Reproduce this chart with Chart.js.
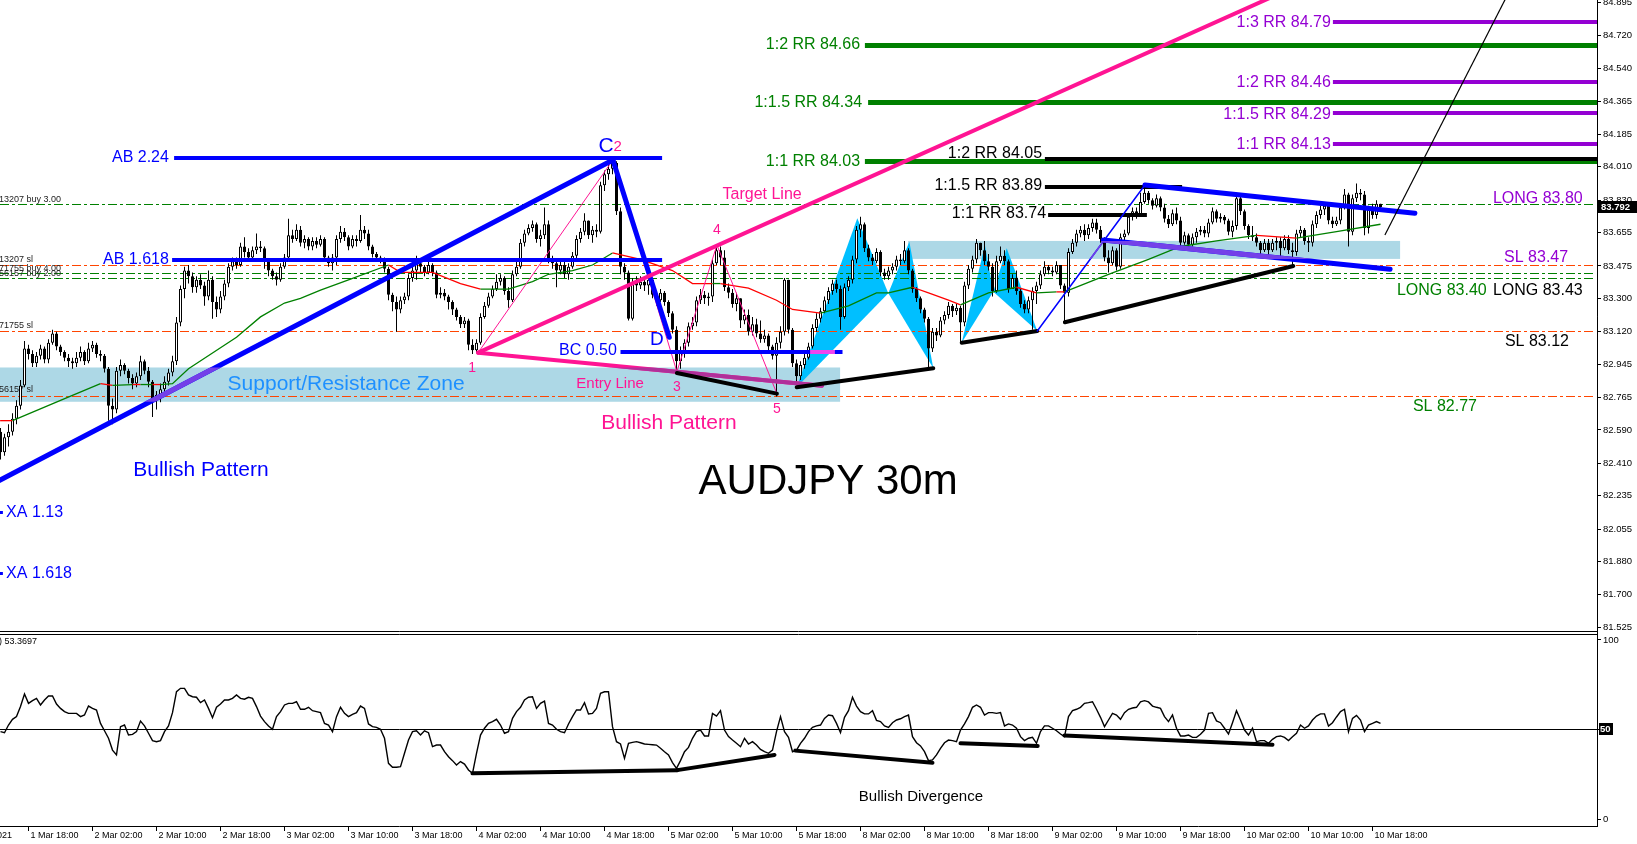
<!DOCTYPE html>
<html><head><meta charset="utf-8">
<script src="https://cdn.jsdelivr.net/npm/chart.js@4.4.1/dist/chart.umd.min.js"></script>
<style>
html,body{margin:0;padding:0;background:#fff;overflow:hidden;}
#wrap{position:relative;width:1637px;height:844px;background:#fff;}
canvas{position:absolute;left:0;}
#c1{top:0;} #c2{top:633px;}
</style></head><body>
<div id="wrap"><canvas id="c1" width="1637" height="633"></canvas><canvas id="c2" width="1637" height="211"></canvas></div>
<script>
// ---------------- DATA ----------------
const firstIdx = -7;          // candle index of first bar (index 0 = 1 Mar 18:00, 30m bars)
const firstOpen = 82.58;
const closes = [
82.47,82.55,82.58,82.65,82.72,82.83,83.03,83.00,82.95,82.99,
83.03,82.97,83.06,83.11,83.04,83.01,82.98,82.96,82.95,82.98,
83.01,82.96,83.03,83.05,83.00,82.99,82.92,82.72,82.70,82.91,
82.94,82.91,82.87,82.84,82.88,82.96,82.91,82.85,82.76,82.78,
82.81,82.85,82.90,82.96,83.17,83.35,83.45,83.42,83.36,83.40,
83.37,83.31,83.40,83.28,83.24,83.31,83.38,83.47,83.50,83.48,
83.58,83.55,83.52,83.56,83.58,83.57,83.50,83.45,83.42,83.40,
83.47,83.52,83.64,83.62,83.67,
83.60,83.62,83.58,83.61,83.59,83.62,83.52,83.49,83.52,83.62,
83.66,83.63,83.58,83.62,83.61,83.67,83.65,83.58,83.54,83.52,
83.51,83.46,83.32,83.28,83.24,83.29,83.31,83.41,83.45,83.49,
83.47,83.44,83.48,83.44,83.32,83.33,83.31,83.28,83.24,83.20,
83.16,83.18,83.05,83.02,83.06,83.20,83.26,83.31,83.35,83.39,
83.41,83.34,83.29,83.43,83.47,83.60,83.65,83.68,83.70,83.62,
83.64,83.70,83.51,83.49,83.45,83.48,83.43,83.47,83.53,83.62,
83.66,83.72,83.64,83.67,83.66,83.91,83.97,84.00,84.03,83.77,
83.47,83.44,83.19,83.39,83.37,83.39,83.37,83.40,83.32,83.29,
83.33,83.28,83.22,83.13,82.96,83.01,83.06,83.15,83.17,83.29,
83.32,83.30,83.31,83.49,83.56,83.52,83.36,83.33,83.27,83.30,
83.18,83.21,
83.12,83.16,83.11,83.08,83.10,83.04,82.99,83.06,83.12,83.40,
83.13,82.95,82.88,82.94,82.98,83.04,83.14,83.19,83.23,83.29,
83.34,83.38,83.35,83.20,83.36,83.40,83.51,83.67,83.70,83.57,
83.52,83.50,83.55,83.44,83.42,83.45,83.47,83.51,83.50,83.56,
83.45,83.35,83.30,83.24,83.19,83.03,83.12,83.10,83.18,83.21,
83.26,83.23,83.25,83.17,83.37,83.46,83.51,83.60,83.56,83.50,
83.47,83.34,83.50,83.53,83.50,83.35,83.41,83.34,83.27,83.24,
83.29,83.34,83.37,83.43,83.47,83.45,83.44,83.48,83.37,83.33,
83.55,83.60,83.65,83.67,83.64,83.68,83.71,83.67,83.62,83.52,
83.49,83.56,83.47,83.63,83.65,83.74,83.77,83.75,83.82,83.87,
83.83,83.80,83.84,83.79,83.73,83.70,83.76,83.72,83.60,83.64,
83.59,83.63,83.66,83.67,83.65,83.71,83.77,83.73,83.74,83.72,
83.66,83.69,83.84,83.77,83.69,
83.64,83.63,83.60,83.56,83.60,83.56,83.60,83.61,83.57,83.62,
83.56,83.55,83.65,83.67,83.61,83.60,83.70,83.75,83.78,83.80,
83.72,83.70,83.72,83.79,83.86,83.66,83.84,83.87,83.86,83.68,
83.78,83.75,83.81,83.792];
const highs = [
82.60,82.57,82.62,82.68,82.75,82.86,83.07,83.05,83.02,83.01,
83.05,83.04,83.08,83.13,83.12,83.05,83.02,83.00,82.98,83.01,
83.04,83.02,83.06,83.07,83.06,83.02,83.00,82.93,82.76,82.93,
82.97,82.95,82.92,82.89,82.90,82.99,82.97,82.93,82.86,82.80,
82.84,82.88,82.92,82.99,83.20,83.37,83.47,83.48,83.44,83.42,
83.43,83.39,83.45,83.42,83.31,83.34,83.40,83.49,83.52,83.52,
83.60,83.63,83.57,83.58,83.65,83.61,83.58,83.51,83.46,83.44,
83.49,83.54,83.73,83.67,83.70,
83.69,83.64,83.63,83.63,83.63,83.64,83.63,83.53,83.54,83.64,
83.69,83.68,83.64,83.64,83.64,83.75,83.69,83.67,83.59,83.55,
83.53,83.52,83.47,83.33,83.31,83.31,83.33,83.43,83.47,83.53,
83.51,83.48,83.53,83.49,83.45,83.36,83.35,83.32,83.29,83.25,
83.21,83.20,83.19,83.08,83.08,83.22,83.28,83.33,83.37,83.43,
83.43,83.42,83.36,83.45,83.50,83.62,83.67,83.70,83.72,83.71,
83.67,83.79,83.72,83.53,83.51,83.50,83.50,83.49,83.55,83.64,
83.68,83.76,83.72,83.69,83.70,83.93,83.99,84.02,84.06,84.04,
83.79,83.49,83.45,83.41,83.42,83.42,83.41,83.42,83.41,83.34,
83.35,83.34,83.29,83.23,83.15,83.04,83.08,83.17,83.20,83.31,
83.35,83.34,83.33,83.51,83.59,83.58,83.56,83.38,83.35,83.33,
83.30,83.24,
83.24,83.20,83.19,83.18,83.13,83.11,83.05,83.09,83.15,83.41,
83.40,83.14,82.97,82.96,83.00,83.06,83.16,83.22,83.25,83.31,
83.36,83.40,83.40,83.37,83.38,83.42,83.53,83.69,83.74,83.71,
83.59,83.54,83.57,83.56,83.46,83.47,83.49,83.53,83.54,83.61,
83.57,83.46,83.36,83.31,83.25,83.20,83.14,83.14,83.20,83.23,
83.28,83.27,83.27,83.26,83.39,83.48,83.53,83.62,83.60,83.61,
83.54,83.49,83.53,83.58,83.56,83.51,83.43,83.45,83.35,83.29,
83.31,83.36,83.39,83.45,83.50,83.48,83.47,83.50,83.47,83.38,
83.57,83.62,83.67,83.69,83.70,83.70,83.73,83.73,83.69,83.63,
83.56,83.58,83.57,83.65,83.67,83.76,83.79,83.79,83.87,83.91,
83.88,83.84,83.86,83.85,83.81,83.75,83.78,83.79,83.74,83.66,
83.65,83.65,83.68,83.69,83.69,83.73,83.79,83.78,83.76,83.75,
83.73,83.72,83.87,83.85,83.78,
83.70,83.69,83.65,83.61,83.62,83.62,83.62,83.63,83.63,83.64,
83.64,83.60,83.67,83.69,83.68,83.63,83.72,83.77,83.80,83.82,
83.81,83.74,83.74,83.81,83.89,83.87,83.86,83.92,83.89,83.88,
83.80,83.81,83.83,83.81];
const lows = [
82.43,82.45,82.50,82.56,82.62,82.70,82.82,82.97,82.93,82.93,
82.97,82.95,82.95,83.05,83.02,82.99,82.96,82.93,82.92,82.93,
82.96,82.94,82.95,83.01,82.98,82.96,82.90,82.64,82.62,82.68,
82.88,82.89,82.84,82.81,82.82,82.86,82.89,82.82,82.66,82.70,
82.74,82.79,82.83,82.88,82.94,83.15,83.30,83.38,83.33,83.33,
83.35,83.26,83.29,83.19,83.20,83.22,83.29,83.36,83.45,83.46,
83.47,83.52,83.50,83.50,83.54,83.55,83.46,83.42,83.40,83.37,
83.39,83.46,83.51,83.60,83.61,
83.58,83.57,83.56,83.56,83.57,83.58,83.50,83.47,83.45,83.48,
83.60,83.61,83.56,83.57,83.58,83.60,83.62,83.56,83.52,83.50,
83.49,83.44,83.29,83.23,83.12,83.22,83.27,83.29,83.39,83.40,
83.44,83.42,83.43,83.42,83.30,83.30,83.29,83.24,83.21,83.18,
83.14,83.14,83.02,83.00,83.01,83.05,83.19,83.25,83.30,83.34,
83.37,83.32,83.25,83.28,83.42,83.46,83.58,83.64,83.66,83.60,
83.58,83.62,83.49,83.46,83.36,83.43,83.41,83.40,83.46,83.51,
83.60,83.64,83.62,83.60,83.63,83.65,83.88,83.94,83.97,83.75,
83.43,83.40,83.18,83.18,83.34,83.35,83.34,83.32,83.30,83.26,
83.28,83.26,83.20,83.11,82.91,82.92,82.98,83.04,83.13,83.15,
83.27,83.27,83.26,83.28,83.48,83.48,83.34,83.30,83.25,83.23,
83.14,83.16,
83.10,83.10,83.09,83.06,83.06,83.02,82.97,82.77,83.03,83.10,
83.11,82.93,82.84,82.86,82.92,82.97,83.03,83.12,83.17,83.22,
83.27,83.32,83.33,83.13,83.19,83.34,83.38,83.49,83.63,83.55,
83.50,83.48,83.49,83.42,83.40,83.40,83.43,83.45,83.48,83.49,
83.43,83.33,83.28,83.22,83.17,82.92,83.01,83.07,83.09,83.16,
83.19,83.20,83.21,83.06,83.15,83.35,83.44,83.49,83.53,83.48,
83.45,83.31,83.33,83.49,83.48,83.33,83.35,83.32,83.25,83.22,
83.22,83.13,83.27,83.35,83.42,83.43,83.42,83.43,83.35,83.17,
83.31,83.54,83.58,83.63,83.61,83.62,83.66,83.65,83.60,83.50,
83.44,83.48,83.45,83.46,83.60,83.64,83.72,83.73,83.74,83.81,
83.81,83.78,83.79,83.77,83.71,83.68,83.69,83.70,83.58,83.59,
83.57,83.58,83.60,83.64,83.63,83.63,83.70,83.71,83.71,83.70,
83.64,83.63,83.67,83.75,83.67,
83.62,83.61,83.58,83.54,83.55,83.53,83.55,83.56,83.51,83.56,
83.54,83.47,83.53,83.63,83.59,83.55,83.58,83.68,83.73,83.75,
83.70,83.68,83.69,83.70,83.78,83.58,83.64,83.82,83.83,83.64,
83.65,83.73,83.73,83.77];
const rsi = [
48.8,48.2,52.5,55.7,57.2,62.8,69.8,64.6,66.1,67.4,
63.7,66.5,68.7,68.7,64.2,61.8,60.0,59.0,59.0,59.0,
57.2,58.1,63.1,61.8,60.9,53.4,49.3,45.1,38.5,35.8,
51.6,52.5,46.9,47.3,48.8,54.7,52.0,47.9,43.8,43.2,
43.8,48.8,52.0,59.4,71.1,73.0,73.0,69.3,68.3,68.0,
65.0,66.5,61.8,56.6,62.4,64.2,66.5,66.5,67.4,69.3,
67.4,66.9,68.0,67.4,62.8,57.5,54.4,52.0,50.1,57.2,
60.0,63.7,64.6,64.6,65.5,61.3,61.3,62.4,60.5,60.0,
59.4,53.4,52.5,48.8,57.2,62.4,59.0,57.2,58.5,59.4,
63.1,61.8,53.1,51.6,51.2,50.1,45.1,31.1,28.9,28.9,
29.2,36.7,44.1,48.8,49.3,46.9,49.3,48.2,40.4,41.3,
41.3,37.6,34.8,32.6,30.2,32.1,30.7,27.4,25.5,36.7,
46.9,50.7,53.4,54.4,55.7,52.5,47.9,48.8,56.2,60.0,
62.4,66.5,68.0,68.3,61.8,64.6,65.9,53.4,52.5,50.1,
48.8,48.2,53.1,57.2,60.9,60.9,65.0,58.7,59.0,61.8,
70.2,71.1,71.1,51.6,43.2,41.9,33.9,42.3,42.8,43.2,
42.6,41.9,41.7,41.5,41.3,39.5,37.6,35.8,31.5,28.3,
32.6,37.6,40.0,45.1,48.8,49.7,46.4,46.4,59.0,57.5,
60.5,49.7,46.0,44.1,42.3,40.4,45.1,41.9,43.2,41.3,
38.9,37.6,36.7,38.5,48.8,57.2,48.8,45.6,37.6,38.5,
42.3,45.1,48.8,51.2,52.0,
52.5,56.2,58.1,57.7,53.4,48.2,56.8,60.5,68.0,63.1,
60.0,58.7,58.7,60.5,55.1,54.4,52.0,51.2,53.8,55.3,
56.0,57.2,58.1,46.0,42.6,40.8,37.6,32.6,33.0,35.8,
39.5,42.6,44.1,43.8,43.2,49.7,53.1,57.2,62.4,63.7,
62.4,58.1,59.4,59.4,59.0,59.4,52.0,53.1,52.5,50.7,
46.0,43.8,45.1,45.6,42.3,48.8,52.0,52.0,50.7,49.3,
47.5,46.0,57.2,60.5,61.3,62.4,64.6,65.0,65.5,61.3,
56.8,51.6,55.3,59.0,58.1,55.7,59.4,61.3,62.0,62.4,
65.5,66.1,65.4,63.1,62.4,61.8,57.2,54.4,58.1,50.7,
46.4,46.4,46.9,45.6,45.6,47.3,49.7,59.0,59.4,54.8,
53.8,50.7,47.5,53.8,60.5,55.3,49.7,46.9,50.7,43.2,
43.8,43.8,42.3,44.5,46.0,46.4,45.6,43.8,46.0,47.9,
52.5,50.7,52.0,55.3,57.5,58.7,58.7,51.9,53.8,57.0,
60.0,61.3,48.8,56.2,57.9,55.3,48.8,52.5,53.4,54.4,
53.37];
// moving average read at sparse bars, with segment colour (r = falling/red, g = rising/green)
const maIdx = [-7.1,-4,8,18,21,26,28,31,33,36,40,46,52,58,64,68,73,80,90,93,101,108,113,120,126,130,136,141,146,153,161,166,171,173,180,187,191,198,205,212,215,221,225,230,233,240,247,252,257,259,270,280,288,297,307,317,327,338];
const maVal = [82.64,82.64,82.75,82.84,82.83,82.835,82.835,82.835,82.835,82.84,82.92,83.005,83.09,83.20,83.275,83.30,83.345,83.40,83.48,83.44,83.44,83.38,83.35,83.35,83.39,83.43,83.45,83.48,83.545,83.51,83.45,83.38,83.38,83.38,83.355,83.29,83.24,83.22,83.26,83.33,83.33,83.36,83.33,83.29,83.265,83.33,83.36,83.33,83.335,83.335,83.43,83.51,83.58,83.61,83.64,83.625,83.66,83.70];
const maClr = 'rggrgrgrggggggggggrrrrggggggrrrrgrrrrggggrrrggrgrgggggrggg'.split('');
// axes
const yTickVals = [81.525,81.700,81.880,82.055,82.235,82.410,82.590,82.765,82.945,83.120,83.300,83.475,83.655,83.830,84.010,84.185,84.365,84.540,84.720,84.895];
const yTickLabels = ['81.525','81.700','81.880','82.055','82.235','82.410','82.590','82.765','82.945','83.120','83.300','83.475','83.655','83.830','84.010','84.185','84.365','84.540','84.720','84.895'];
const xTickIdx = [-16,0,16,32,48,64,80,96,112,128,144,160,176,192,208,224,240,256,272,288,304,320,336];
const xTickLabels = ['1 Mar 2021','1 Mar 18:00','2 Mar 02:00','2 Mar 10:00','2 Mar 18:00','3 Mar 02:00','3 Mar 10:00','3 Mar 18:00','4 Mar 02:00','4 Mar 10:00','4 Mar 18:00','5 Mar 02:00','5 Mar 10:00','5 Mar 18:00','8 Mar 02:00','8 Mar 10:00','8 Mar 18:00','9 Mar 02:00','9 Mar 10:00','9 Mar 18:00','10 Mar 02:00','10 Mar 10:00','10 Mar 18:00'];
const lastPrice = 83.792;
const rsiLast = '53.3697';

// ---------------- ANNOTATIONS (data coordinates: [bar index, price]) ----------------
const BLUE='#0000FF', PINK='#FF1493', PURPLE='#9400D3', GREEN='#008000', BLACK='#000000', RED='#FF4500';
const zones = [[-7.125,202.9,82.742,82.927],[219.9,342.9,83.513,83.610]];
const orderLines = [[83.804,GREEN,'13207 buy 3.00',83.831],[83.475,RED,'13207 sl',83.507],[83.432,GREEN,'71755 buy 4.00',83.459],[83.406,GREEN,'56157 buy 2.00',83.434],[83.122,RED,'71755 sl',83.151],[82.773,RED,'56157 sl',82.806]];
const triangles = [
 [[192.05,82.820],[207.2,83.732],[214.95,83.327]],[[214.95,83.327],[220.2,83.606],[226.2,82.923]],
 [[233.3,83.061],[239.1,83.588],[241.2,83.336]],[[241.2,83.336],[244.55,83.570],[252.2,83.124]]];
const zigzag = [[112.4,83.007],[146.1,84.047],[162.1,82.904],[172.1,83.588],[187.1,82.786]];
const rrLines = [ // price, start index, colour, width
 [84.667,209.1,GREEN,5],[84.356,209.9,GREEN,5],[84.036,209.1,GREEN,5],
 [84.054,254.1,BLACK,4],
 [84.793,326.1,PURPLE,4],[84.469,326.1,PURPLE,4],[84.299,326.1,PURPLE,4],[84.133,326.1,PURPLE,4]];
const shortLines = [[83.903,254.1,288.4,BLACK,4],[83.750,254.9,279.6,BLACK,4]];
const trendLines = [
 [112.4,83.007,198.4,82.829,PINK,4,'round'],
 [-10,82.287,146.1,84.047,BLUE,5,'round'],
 [146.1,84.047,160.2,83.090,BLUE,5,'round'],
 [36.4,84.059,158.4,84.059,BLUE,4,'butt'],
 [35.9,83.507,158.4,83.507,BLUE,4,'butt'],
 [148.0,83.012,203.5,83.012,BLUE,4,'butt'],
 [195.4,83.012,201.6,83.012,'#EE44EE',4,'butt'],
 [-10,82.143,-6.4,82.143,BLUE,3,'butt'],
 [-10,81.813,-6.4,81.813,BLUE,3,'butt'],
 [162.1,82.897,187.1,82.786,BLACK,4,'round'],
 [192.05,82.820,226.2,82.923,BLACK,4,'round'],
 [233.3,83.061,252.2,83.124,BLACK,4,'round'],
 [259.1,83.171,316.2,83.475,BLACK,4,'round'],
 [252.2,83.124,279.1,83.912,BLUE,1.5,'round'],
 [279.1,83.912,346.6,83.759,BLUE,5,'round'],
 [268.7,83.615,340.4,83.457,BLUE,5,'round']];
const targetLine = [112.4,83.007,320,85.015,PINK,4,'round'];
const thinBlack = [339.1,83.642,372,85.033,BLACK,1.2,'butt'];
const zoneBlend = {'#0000FF':'#7440E8','#FF1493':'#B0309A'};
const texts = [ // text, index, price, colour, size, align
 ['AB 2.24',35.1,84.058,BLUE,16,'right'],['AB 1.618',35.1,83.507,BLUE,16,'right'],
 ['BC 0.50',147.1,83.016,BLUE,16,'right'],
 ['XA 1.13',-5.6,82.143,BLUE,16,'left'],['XA 1.618',-5.6,81.813,BLUE,16,'left'],
 ['Bullish Pattern',43.1,82.374,BLUE,21,'center'],['Bullish Pattern',160.1,82.625,PINK,21,'center'],
 ['Support/Resistance Zone',79.4,82.838,'#1E90FF',21,'center'],
 ['Entry Line',145.4,82.838,PINK,15,'center'],['Target Line',183.4,83.858,PINK,16,'center'],
 ['AUDJPY 30m',199.9,82.309,BLACK,42,'center'],
 ['C',144.4,84.122,BLUE,21,'center'],['2',147.3,84.117,PINK,15,'center'],['D',157.1,83.075,BLUE,19,'center'],
 ['1',110.9,82.924,PINK,14,'center'],['3',162.1,82.822,PINK,14,'center'],['4',172.1,83.669,PINK,14,'center'],['5',187.1,82.703,PINK,14,'center'],
 ['1:2 RR 84.66',207.9,84.667,GREEN,16,'right'],['1:1.5 RR 84.34',208.4,84.356,GREEN,16,'right'],['1:1 RR 84.03',207.9,84.036,GREEN,16,'right'],
 ['1:2 RR 84.05',253.4,84.079,BLACK,16,'right'],['1:1.5 RR 83.89',253.4,83.906,BLACK,16,'right'],['1:1 RR 83.74',254.4,83.755,BLACK,16,'right'],
 ['1:3 RR 84.79',325.6,84.786,PURPLE,16,'right'],['1:2 RR 84.46',325.6,84.462,PURPLE,16,'right'],['1:1.5 RR 84.29',325.6,84.290,PURPLE,16,'right'],['1:1 RR 84.13',325.6,84.128,PURPLE,16,'right'],
 ['LONG 83.80',366.1,83.836,PURPLE,16,'left'],['SL 83.47',368.9,83.518,PURPLE,16,'left'],
 ['LONG 83.40',342.1,83.340,GREEN,16,'left'],['LONG 83.43',366.1,83.340,BLACK,16,'left'],
 ['SL 83.12',369.1,83.065,BLACK,16,'left'],['SL 82.77',346.1,82.714,GREEN,16,'left']];
const rsiDiv = [[111,25.5,162.2,27.3],[162.2,27.3,186.5,35.8],[191.7,38.2,226,31.4],[233,42.3,252.3,40.8],[259,46.6,311,41.5]];

// ---------------- BUILD ----------------
const FONT = '"Liberation Sans", Arial, sans-serif';
Chart.defaults.font.family = FONT;
const N = closes.length;
const idx = closes.map((_, k) => firstIdx + k);
const opens = closes.map((c, k) => k === 0 ? firstOpen : closes[k-1]);
const wickData = idx.map((x, k) => ({x, y: [Math.min(lows[k], opens[k], closes[k]), Math.max(highs[k], opens[k], closes[k])]}));
const bodyData = idx.map((x, k) => ({x, y: [opens[k], closes[k]]}));
const bodyColors = closes.map((c, k) => c >= opens[k] ? '#FFFFFF' : '#000000');
const xMin = -7.125, xMax = 392.125;

function px(ch, i) { return ch.scales.x.getPixelForValue(i); }
function py(ch, p) { return ch.scales.y.getPixelForValue(p); }
function clipArea(ctx, ch) { const a = ch.chartArea; ctx.beginPath(); ctx.rect(a.left, a.top, a.right - a.left, a.bottom - a.top); ctx.clip(); }
function strokeLine(ctx, ch, l, col) {
  let x0 = px(ch, l[0]), y0 = py(ch, l[1]), x1 = px(ch, l[2]), y1 = py(ch, l[3]);
  if (l[1] === l[3]) { const w = l[5]; const c = (w % 2 === 1) ? Math.round(y0 - 0.5) + 0.5 : Math.round(y0); y0 = y1 = c; }
  ctx.beginPath(); ctx.moveTo(x0, y0); ctx.lineTo(x1, y1);
  ctx.strokeStyle = col || l[4]; ctx.lineWidth = l[5]; ctx.lineCap = l[6] || 'butt'; ctx.stroke();
}
function drawWithBlend(ctx, ch, l) {
  strokeLine(ctx, ch, l);
  const bc = zoneBlend[l[4]];
  if (!bc) return;
  zones.forEach(z => {
    const xa = px(ch, z[0]), xb = px(ch, z[1]), ya = py(ch, z[3]), yb = py(ch, z[2]);
    ctx.save(); ctx.beginPath(); ctx.rect(xa, ya, xb - xa, yb - ya); ctx.clip();
    strokeLine(ctx, ch, l, bc); ctx.restore();
  });
}

const mainPlugin = {
  id: 'mainAnn',
  beforeDatasetsDraw(ch) {
    const ctx = ch.ctx, a = ch.chartArea;
    ctx.save(); clipArea(ctx, ch);
    ctx.fillStyle = '#ADD8E6';
    zones.forEach(z => { const xa = px(ch, z[0]), xb = px(ch, z[1]), ya = py(ch, z[3]), yb = py(ch, z[2]); ctx.fillRect(xa, ya, xb - xa, yb - ya); });
    ctx.fillStyle = '#00BFFF';
    triangles.forEach(t => { ctx.beginPath(); t.forEach((p, k) => { const X = px(ch, p[0]), Y = py(ch, p[1]); k ? ctx.lineTo(X, Y) : ctx.moveTo(X, Y); }); ctx.closePath(); ctx.fill(); });
    ctx.lineWidth = 1; ctx.setLineDash([9, 3, 3, 3]);
    orderLines.forEach(o => { const y = Math.round(py(ch, o[0]) - 0.5) + 0.5; ctx.strokeStyle = o[1]; ctx.beginPath(); ctx.moveTo(a.left, y); ctx.lineTo(a.right - 4, y); ctx.stroke(); });
    ctx.setLineDash([]);
    ctx.font = '9px ' + FONT; ctx.fillStyle = '#222'; ctx.textAlign = 'left'; ctx.textBaseline = 'middle';
    orderLines.forEach(o => { ctx.fillText(o[2], a.left - 1, py(ch, o[3])); });
    ctx.restore();
  },
  afterDatasetsDraw(ch) {
    const ctx = ch.ctx;
    ctx.save(); clipArea(ctx, ch);
    // thin pink zigzag
    ctx.beginPath(); zigzag.forEach((p, k) => { const X = px(ch, p[0]), Y = py(ch, p[1]); k ? ctx.lineTo(X, Y) : ctx.moveTo(X, Y); });
    ctx.strokeStyle = PINK; ctx.lineWidth = 1; ctx.stroke();
    // RR levels
    rrLines.forEach(r => strokeLine(ctx, ch, [r[1], r[0], 393, r[0], r[2], r[3], 'butt']));
    shortLines.forEach(s => strokeLine(ctx, ch, [s[1], s[0], s[2], s[0], s[3], s[4], 'butt']));
    trendLines.forEach(l => drawWithBlend(ctx, ch, l));
    strokeLine(ctx, ch, targetLine);
    strokeLine(ctx, ch, thinBlack);
    // texts
    ctx.textBaseline = 'middle';
    texts.forEach(t => { ctx.font = t[4] + 'px ' + FONT; ctx.fillStyle = t[3]; ctx.textAlign = t[5]; ctx.fillText(t[0], px(ch, t[1]), py(ch, t[2])); });
    if (highs.length !== N || lows.length !== N || rsi.length !== N) { ctx.font = '20px sans-serif'; ctx.fillStyle = 'red'; ctx.textAlign='left'; ctx.fillText('LEN ' + N + ' ' + highs.length + ' ' + lows.length + ' ' + rsi.length, 300, 560); }
    ctx.restore();
  },
  afterDraw(ch) {
    const ctx = ch.ctx, a = ch.chartArea;
    ctx.save();
    ctx.strokeStyle = '#000'; ctx.lineWidth = 1;
    ctx.beginPath(); ctx.moveTo(0, 631.5); ctx.lineTo(a.right, 631.5); ctx.stroke();
    ctx.beginPath(); ctx.moveTo(a.right + 0.5, 0); ctx.lineTo(a.right + 0.5, 633); ctx.stroke();
    const y = Math.round(py(ch, lastPrice));
    ctx.fillStyle = '#000'; ctx.fillRect(a.right + 1, y - 6, 40, 12);
    ctx.fillStyle = '#fff'; ctx.font = 'bold 9.5px ' + FONT; ctx.textAlign = 'left'; ctx.textBaseline = 'middle';
    ctx.fillText(lastPrice.toFixed(3), a.right + 4, y + 0.5);
    ctx.restore();
  }
};

new Chart(document.getElementById('c1'), {
  type: 'bar',
  data: { datasets: [
    { type: 'line', label: 'MA', data: maIdx.map((x, k) => ({x, y: maVal[k]})), borderColor: GREEN, borderWidth: 1.3, pointRadius: 0, tension: 0,
      segment: { borderColor: c => maClr[c.p0DataIndex] === 'r' ? '#FF0000' : GREEN }, order: 0 },
    { label: 'body', data: bodyData, backgroundColor: bodyColors, borderColor: '#000', borderWidth: 1, borderSkipped: false,
      barThickness: 3, grouped: false, inflateAmount: 0, order: 1 },
    { label: 'wick', data: wickData, backgroundColor: '#000', borderWidth: 0, barThickness: 1, grouped: false, inflateAmount: 0, order: 2 }
  ]},
  options: {
    responsive: false, animation: false, devicePixelRatio: 1, events: [],
    layout: { padding: { left: 0, right: 0, top: 0, bottom: 1 } },
    plugins: { legend: { display: false }, tooltip: { enabled: false } },
    scales: {
      x: { type: 'linear', min: xMin, max: xMax, display: false, offset: false },
      y: { type: 'linear', position: 'right', min: 81.4995, max: 84.9102, bounds: 'data',
        afterFit(s) { s.width = 40; s.paddingTop = 0; s.paddingBottom = 0; },
        afterBuildTicks(s) { s.ticks = yTickVals.map(v => ({value: v})); },
        ticks: { autoSkip: false, padding: 2, color: '#000', font: { family: FONT, size: 9.5 }, callback: (v, k) => yTickLabels[k] },
        grid: { drawOnChartArea: false, drawTicks: true, tickLength: 4, color: '#000' },
        border: { display: true, color: '#000', width: 1 } }
    }
  },
  plugins: [mainPlugin]
});

const rsiPlugin = {
  id: 'rsiAnn',
  beforeDatasetsDraw(ch) {
    const ctx = ch.ctx, a = ch.chartArea;
    ctx.save(); ctx.strokeStyle = '#000'; ctx.lineWidth = 1;
    const y = Math.round(py(ch, 50) - 0.5) + 0.5;
    ctx.beginPath(); ctx.moveTo(a.left, y); ctx.lineTo(a.right, y); ctx.stroke();
    ctx.restore();
  },
  afterDatasetsDraw(ch) {
    const ctx = ch.ctx;
    ctx.save(); clipArea(ctx, ch);
    rsiDiv.forEach(d => { ctx.beginPath(); ctx.moveTo(px(ch, d[0]), py(ch, d[1])); ctx.lineTo(px(ch, d[2]), py(ch, d[3])); ctx.strokeStyle = '#000'; ctx.lineWidth = 4; ctx.lineCap = 'round'; ctx.stroke(); });
    ctx.fillStyle = '#000'; ctx.textBaseline = 'middle';
    ctx.font = '15px ' + FONT; ctx.textAlign = 'center';
    ctx.fillText('Bullish Divergence', px(ch, 223.1), py(ch, 12.3));
    ctx.font = '9px ' + FONT; ctx.textAlign = 'right';
    ctx.fillText('RSI(14) ' + rsiLast, 37, py(ch, 98.9));
    ctx.restore();
  },
  afterDraw(ch) {
    const ctx = ch.ctx, a = ch.chartArea;
    ctx.save(); ctx.strokeStyle = '#000'; ctx.lineWidth = 1;
    ctx.beginPath(); ctx.moveTo(0, 1.5); ctx.lineTo(a.right, 1.5); ctx.stroke();
    ctx.beginPath(); ctx.moveTo(0, a.bottom + 0.5); ctx.lineTo(a.right + 1, a.bottom + 0.5); ctx.stroke();
    ctx.beginPath(); ctx.moveTo(a.right + 0.5, 0); ctx.lineTo(a.right + 0.5, a.bottom + 1); ctx.stroke();
    ctx.font = '9px ' + FONT; ctx.fillStyle = '#000'; ctx.textAlign = 'left'; ctx.textBaseline = 'middle';
    xTickIdx.forEach((t, k) => {
      const x = Math.round(px(ch, t) - 0.5) + 0.5;
      ctx.beginPath(); ctx.moveTo(x, a.bottom + 0.5); ctx.lineTo(x, a.bottom + 5); ctx.stroke();
      ctx.fillText(xTickLabels[k], x + 2, a.bottom + 10);
    });
    const y50 = Math.round(py(ch, 50));
    ctx.fillStyle = '#000'; ctx.fillRect(a.right + 2, y50 - 6, 14, 12);
    ctx.fillStyle = '#fff'; ctx.font = 'bold 9.5px ' + FONT; ctx.fillText('50', a.right + 3, y50 + 0.5);
    ctx.restore();
  }
};

new Chart(document.getElementById('c2'), {
  type: 'line',
  data: { datasets: [{ label: 'RSI', data: idx.map((x, k) => ({x, y: rsi[k]})), borderColor: '#000', borderWidth: 1.4, pointRadius: 0, tension: 0 }] },
  options: {
    responsive: false, animation: false, devicePixelRatio: 1, events: [],
    layout: { padding: { left: 0, right: 0, top: 2, bottom: 18 } },
    plugins: { legend: { display: false }, tooltip: { enabled: false } },
    scales: {
      x: { type: 'linear', min: xMin, max: xMax, display: false },
      y: { type: 'linear', position: 'right', min: -3.91, max: 102.79, bounds: 'data',
        afterFit(s) { s.width = 40; s.paddingTop = 0; s.paddingBottom = 0; },
        afterBuildTicks(s) { s.ticks = [{value: 0}, {value: 50}, {value: 100}]; },
        ticks: { autoSkip: false, padding: 2, color: '#000', font: { family: FONT, size: 9.5 }, callback: v => v === 50 ? '' : String(v) },
        grid: { drawOnChartArea: false, drawTicks: true, tickLength: 4, color: '#000' },
        border: { display: true, color: '#000', width: 1 } }
    }
  },
  plugins: [rsiPlugin]
});
</script>
</body></html>
